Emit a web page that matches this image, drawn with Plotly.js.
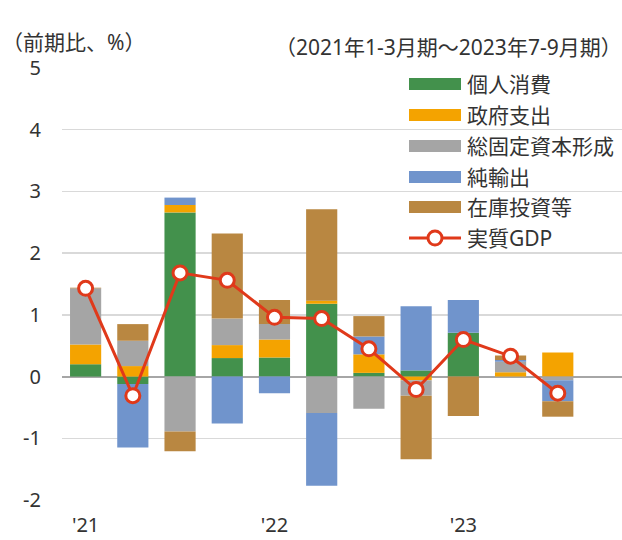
<!DOCTYPE html>
<html>
<head>
<meta charset="utf-8">
<script src="https://cdn.plot.ly/plotly-3.0.1.min.js"></script>
<style>
  html, body { margin: 0; padding: 0; background: #fff; }
  #chart { width: 622px; height: 540px; }
</style>
</head>
<body>
<div id="chart"></div>
<script>
// ---- data ----
var quarters = ['2021Q1','2021Q2','2021Q3','2021Q4','2022Q1','2022Q2','2022Q3','2022Q4','2023Q1','2023Q2','2023Q3'];
var consumption = [0.20, -0.12, 2.66, 0.30, 0.31, 1.18, 0.06, 0.10, 0.71, 0.00, 0.00];
var government  = [0.32, 0.17, 0.12, 0.21, 0.29, 0.05, 0.30, -0.06, 0.00, 0.07, 0.39];
var fixedInvest = [0.91, 0.41, -0.89, 0.43, 0.25, -0.59, -0.52, -0.25, 0.00, 0.17, -0.06];
var netExports  = [0.00, -1.03, 0.12, -0.76, -0.27, -1.18, 0.29, 1.04, 0.53, 0.03, -0.34];
var inventory   = [0.01, 0.27, -0.32, 1.38, 0.39, 1.48, 0.33, -1.03, -0.64, 0.07, -0.25];
var realGDP     = [1.43, -0.31, 1.68, 1.56, 0.96, 0.94, 0.45, -0.21, 0.60, 0.33, -0.27];
var seriesNames = ['個人消費','政府支出','総固定資本形成','純輸出','在庫投資等','実質GDP'];
var xTickVals = ['2021Q1','2022Q1','2023Q1'];
var xTickText = ["'21","'22","'23"];
var yTickVals = [-2, -1, 0, 1, 2, 3, 4, 5];
var yTickText = ['-2','-1','0','1','2','3','4','5'];
var unitLabel = '（前期比、%）';
var periodLabel = '（2021年1-3月期～2023年7-9月期）';

// ---- style ----
var colors = ['#43914C','#F4A300','#A5A5A5','#7094CC','#B98741','#E0391A'];
var FONT = 'Noto Sans, Noto Sans CJK JP, sans-serif';
var textColor = '#333333';
var L = 62, R = 622, T = 68, B = 500;
function px(p){ return (p - L) / (R - L); }
function py(p){ return (B - p) / (B - T); }

var barSeries = [consumption, government, fixedInvest, netExports, inventory];
var traces = barSeries.map(function(vals, i){
  return {
    type: 'bar', x: quarters, y: vals, name: seriesNames[i],
    marker: {color: colors[i], line: {width: 0}},
    showlegend: false, hoverinfo: 'skip'
  };
});
traces.push({
  type: 'scatter', mode: 'lines+markers', x: quarters, y: realGDP, name: seriesNames[5],
  line: {color: colors[5], width: 3},
  marker: {size: 14, color: '#ffffff', line: {color: colors[5], width: 3}},
  showlegend: false, hoverinfo: 'skip', cliponaxis: false
});

// custom legend (wide swatches)
var shapes = [], annotations = [];
var rowY = [84, 115, 146, 177, 207, 238];
for (var i = 0; i < 6; i++) {
  if (i < 5) {
    shapes.push({type: 'rect', xref: 'paper', yref: 'paper',
      x0: px(409), x1: px(461), y0: py(rowY[i] + 6), y1: py(rowY[i] - 6),
      fillcolor: colors[i], line: {width: 0}});
  } else {
    shapes.push({type: 'line', xref: 'paper', yref: 'paper',
      x0: px(409), x1: px(461), y0: py(rowY[i]), y1: py(rowY[i]),
      line: {color: colors[5], width: 3}});
    shapes.push({type: 'circle', xref: 'paper', yref: 'paper',
      x0: px(428), x1: px(442), y0: py(rowY[i] + 7), y1: py(rowY[i] - 7),
      fillcolor: '#ffffff', line: {color: colors[5], width: 3}});
  }
  annotations.push({xref: 'paper', yref: 'paper', x: px(465), y: py(rowY[i]),
    xanchor: 'left', yanchor: 'middle', showarrow: false, text: seriesNames[i],
    font: {family: FONT, size: 21, color: textColor}});
}
annotations.push({xref: 'paper', yref: 'paper', x: px(0), y: py(42),
  xanchor: 'left', yanchor: 'middle', showarrow: false, text: unitLabel,
  font: {family: FONT, size: 21, color: textColor}});
annotations.push({xref: 'paper', yref: 'paper', x: px(624), y: py(47),
  xanchor: 'right', yanchor: 'middle', showarrow: false, text: periodLabel,
  font: {family: FONT, size: 21, color: textColor}});

var layout = {
  width: 622, height: 540,
  margin: {l: L, r: 622 - R, t: T, b: 540 - B, autoexpand: false},
  paper_bgcolor: '#ffffff', plot_bgcolor: '#ffffff',
  barmode: 'relative', bargap: 0.34,
  font: {family: FONT, size: 20, color: textColor},
  xaxis: {
    type: 'category', range: [-0.5, 11.36], fixedrange: true,
    tickvals: xTickVals, ticktext: xTickText, ticks: '',
    showgrid: false, zeroline: false, showline: false,
    ticklabelstandoff: 11, tickfont: {family: FONT, size: 20, color: textColor}
  },
  xaxis2: {
    type: 'linear', overlaying: 'x', anchor: 'free', position: 2/7,
    range: [-0.5, 11.36], tickvals: [-0.5, 3.5, 7.5, 11.5], ticks: 'inside',
    ticklen: 7, tickwidth: 1.5, tickcolor: '#A6A6A6',
    showticklabels: false, showgrid: false, zeroline: false, showline: false
  },
  yaxis: {
    range: [-2, 5], tickvals: yTickVals, ticktext: yTickText, ticks: '', fixedrange: true,
    showgrid: true, gridcolor: '#D9D9D9', gridwidth: 1.3,
    zeroline: true, zerolinecolor: '#A6A6A6', zerolinewidth: 2,
    showline: false, ticklabelstandoff: 20,
    tickfont: {family: FONT, size: 20, color: textColor}
  },
  shapes: shapes,
  annotations: annotations
};

Plotly.newPlot('chart', traces, layout, {staticPlot: true, displayModeBar: false});
</script>
</body>
</html>
